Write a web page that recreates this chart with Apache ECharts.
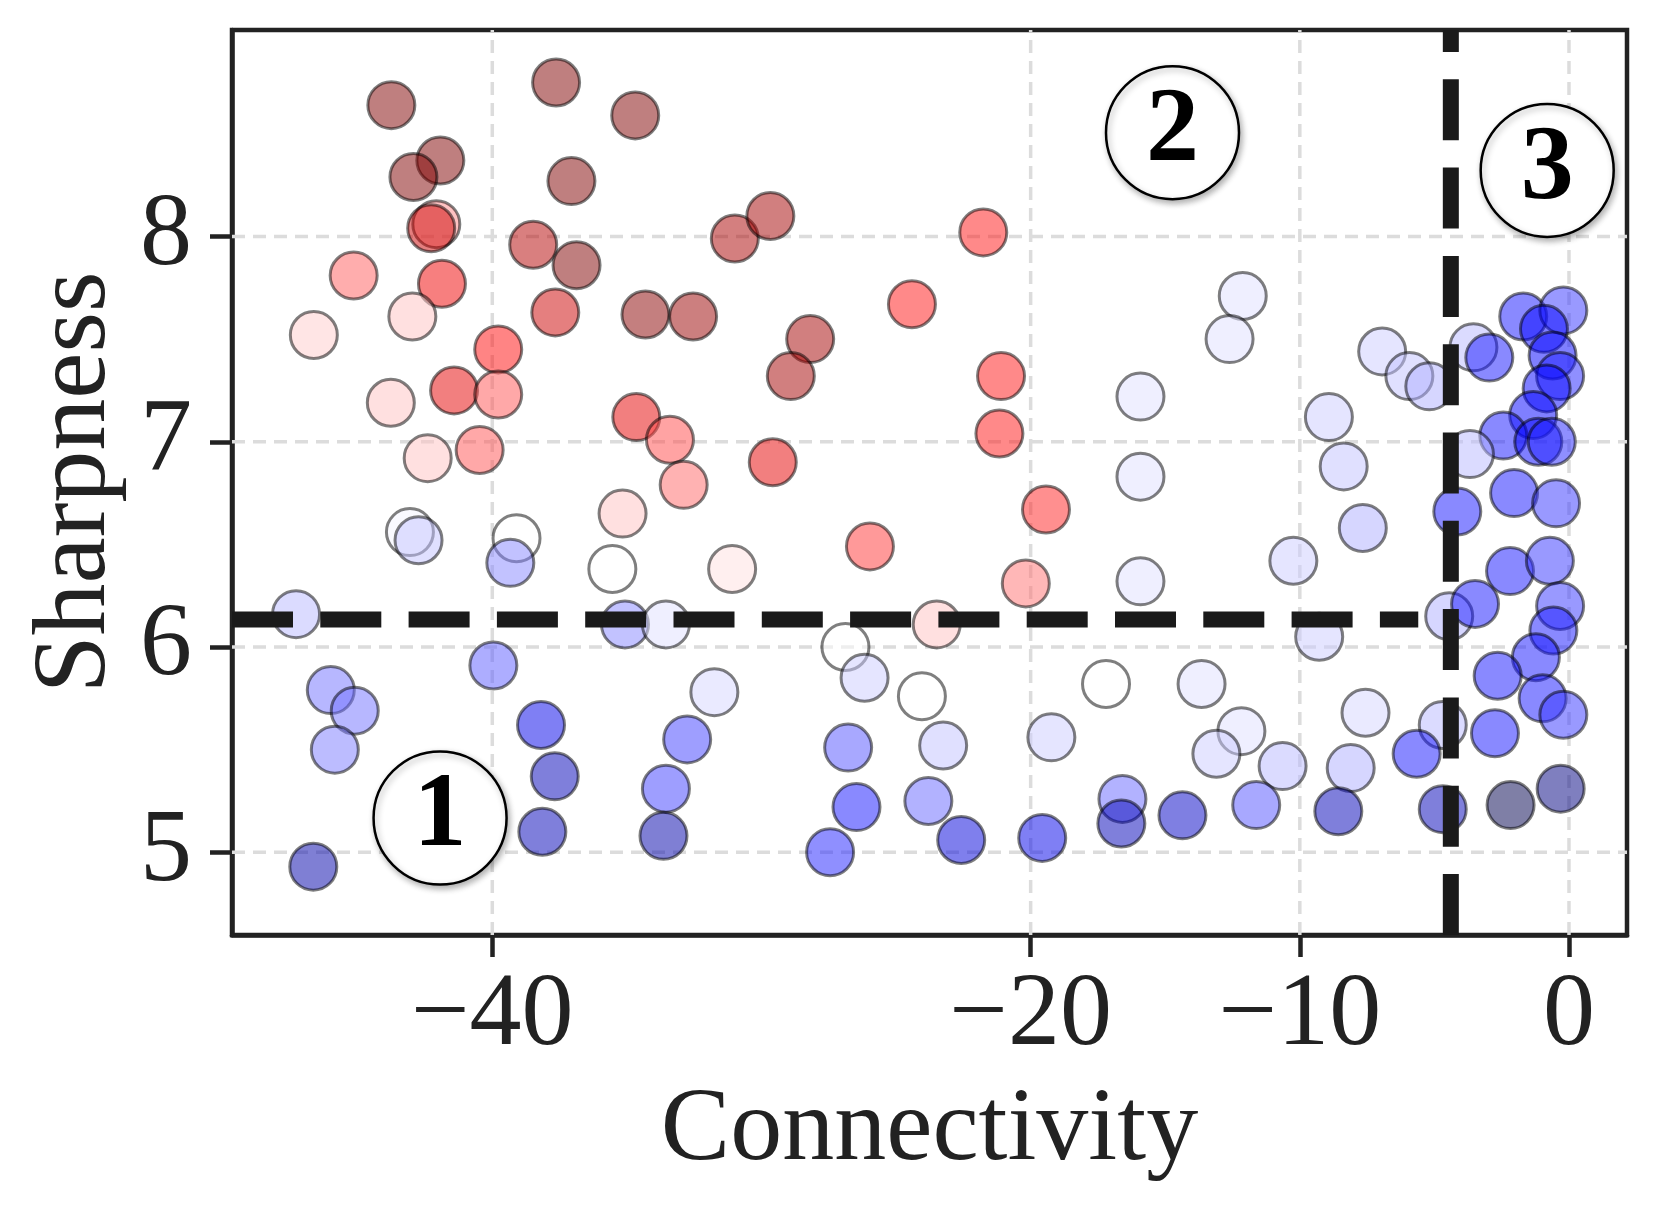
<!DOCTYPE html>
<html>
<head>
<meta charset="utf-8">
<title>Connectivity vs Sharpness</title>
<script src="https://cdn.jsdelivr.net/npm/echarts@6.0.0/dist/echarts.min.js"></script>
<style>
  html, body { margin: 0; padding: 0; background: #fff; }
  #main { width: 1657px; height: 1210px; }
</style>
</head>
<body>
<div id="main"></div>
<script>
// points, same order in all three arrays
var connectivity = [
  -43.75, -37.63, -34.69, -41.93, -42.93, -37.06, -42.08, -42.27, -45.15, -41.87,
  -38.48, -36.87, -30.99, -29.67, -37.66, -34.31, -32.54, -42.97, -46.63, -39.78,
  -41.42, -39.78, -43.77, -42.40, -40.47, -34.65, -33.40, -32.89, -29.58, -28.19,
  -28.91, -35.16, -31.09, -35.54, -39.10, -39.33, -43.06, -42.74, -21.76, -24.41,
  -21.10, -21.16, -19.43, -25.97, -20.18, -23.49,
  -47.29, -35.07, -33.55, -39.96, -46.00, -45.11, -45.85, -38.19, -37.68, -38.14,
  -31.75, -32.76, -33.55, -33.64, -46.65,
  -26.88, -26.17, -24.04, -26.78, -23.25, -19.23, -17.20, -13.65, -12.17, -13.10,
  -10.64, -7.56, -8.11, -4.69, -5.66, -4.45, -9.28, -4.69, -8.57, -11.62,
  -14.36, -16.59, -16.63, -19.57, -22.58, -23.80, -26.47, -27.45,
  -12.12, -12.61, -15.92, -15.92, -15.92, -8.92, -8.37, -7.66, -10.24,
  -6.94, -5.93, -5.19, -3.55, -2.96, -1.70, -0.21, -0.93, -0.61, -0.33, -0.83, -1.33, -2.44, -1.14, -0.64,
  -3.68, -2.04, -0.48, -4.15, -2.19, -0.71, -0.33, -3.49, -0.58, -1.23, -2.65, -0.98, -0.21, -2.75, -2.17, -0.31
];
var sharpness = [
  8.64, 8.75, 8.59, 8.37, 8.29, 8.27, 8.06, 8.04, 7.81, 7.77,
  7.96, 7.86, 7.99, 8.10, 7.63, 7.62, 7.61, 7.61, 7.52, 7.45,
  7.25, 7.23, 7.19, 6.92, 6.96, 7.12, 7.01, 6.79, 6.90, 7.50,
  7.32, 6.65, 6.38, 6.38, 6.53, 6.41, 6.56, 6.52, 8.02, 7.67,
  7.32, 7.04, 6.67, 6.49, 6.31, 6.11,
  6.16, 6.11, 6.11, 5.91, 5.79, 5.69, 5.50, 5.62, 5.37, 5.10,
  5.78, 5.55, 5.31, 5.08, 4.93,
  6.00, 5.85, 5.76, 5.51, 5.52, 5.56, 5.82, 5.82, 5.59, 5.48,
  5.42, 5.68, 5.41, 5.62, 5.48, 6.15, 6.05, 5.21, 5.20, 5.23,
  5.18, 5.26, 5.14, 5.07, 5.06, 5.25, 5.22, 5.00,
  7.71, 7.50, 7.22, 6.83, 6.32, 7.12, 6.88, 6.58, 6.42,
  7.44, 7.32, 7.27, 7.46, 7.41, 7.61, 7.64, 7.55, 7.42, 7.32, 7.26, 7.13, 7.03, 7.00, 7.00,
  6.94, 6.75, 6.70, 6.66, 6.37, 6.42, 6.20, 6.21, 6.08, 5.95, 5.86, 5.75, 5.67, 5.58, 5.23, 5.31
];
// colour value, 0 = dark blue, 0.5 = white, 1 = dark red (seismic map)
var score = [
  1.00, 1.00, 1.00, 1.00, 1.00, 1.00, 0.62, 0.85, 0.66, 0.78,
  0.90, 1.00, 0.92, 0.93, 0.85, 0.98, 0.95, 0.56, 0.55, 0.74,
  0.80, 0.67, 0.56, 0.56, 0.67, 0.80, 0.68, 0.65, 0.80, 0.93,
  0.93, 0.56, 0.53, 0.50, 0.50, 0.38, 0.49, 0.44, 0.73, 0.73,
  0.73, 0.73, 0.72, 0.70, 0.64, 0.56,
  0.43, 0.38, 0.47, 0.34, 0.36, 0.36, 0.37, 0.22, 0.15, 0.15,
  0.46, 0.31, 0.31, 0.13, 0.13,
  0.50, 0.45, 0.50, 0.33, 0.44, 0.45, 0.50, 0.47, 0.47, 0.45,
  0.43, 0.46, 0.42, 0.43, 0.27, 0.42, 0.45, 0.15, 0.15, 0.33,
  0.17, 0.35, 0.15, 0.22, 0.20, 0.35, 0.27, 0.28,
  0.47, 0.47, 0.47, 0.47, 0.47, 0.45, 0.44, 0.42, 0.45,
  0.45, 0.44, 0.42, 0.43, 0.27, 0.27, 0.30, 0.25, 0.25, 0.28, 0.25, 0.25, 0.27, 0.25, 0.28,
  0.43, 0.27, 0.30, 0.27, 0.27, 0.30, 0.30, 0.27, 0.27, 0.27, 0.27, 0.27, 0.30, 0.27, 0.00, 0.07
];

var xTicks = [-40, -20, -10, 0];
var yTicks = [5, 6, 7, 8];
var xMin = -49.67, xMax = 2.155;
var yMin = 4.597, yMax = 9.006;

// region split lines (the horizontal one stops short of the vertical one)
var connThreshold = -4.39;
var sharpThreshold = 6.134;
var sharpLineEnd = -5.6;

// circled region numbers
var regionLabels = ['1', '2', '3'];
var regionX = [-41.94, -14.73, -0.81];
var regionY = [5.167, 8.506, 8.322];

var FONT = "'Liberation Serif', 'Times New Roman', serif";
var INK = '#222';
var FS = 104;

var points = connectivity.map(function (c, i) {
  return [c, sharpness[i], score[i]];
});
var regions = regionLabels.map(function (t, i) {
  return [regionX[i], regionY[i], t];
});

function minusFmt(v) {
  return v < 0 ? '\u2212' + Math.abs(v) : String(v);
}

// straight segment as a line series (dash phase starts at the first point)
function segment(data, style, z) {
  return {
    type: 'line', data: data, z: z, silent: true,
    showSymbol: false, symbol: 'none', animation: false,
    lineStyle: style
  };
}

var gridStyle = { color: '#dcdcdc', width: 3.5, type: [13, 8] };
var splitStyle = { color: '#1a1a1a', width: 16, type: [61, 27.3] };

var series = [];
// dashed grid at the tick values only
xTicks.forEach(function (v) {
  series.push(segment([[v, yMin], [v, yMax]], gridStyle, 1));
});
yTicks.forEach(function (v) {
  series.push(segment([[xMin, v], [xMax, v]], gridStyle, 1));
});
var pointIndex = series.length;
series.push({
  type: 'scatter', data: points, z: 3,
  symbolSize: 47,
  itemStyle: { borderColor: '#000', borderWidth: 3, opacity: 0.5 }
});
series.push(segment([[xMin, sharpThreshold], [sharpLineEnd, sharpThreshold]], splitStyle, 6));
series.push(segment([[connThreshold, yMin], [connThreshold, yMax]], splitStyle, 6));
series.push({
  type: 'scatter', data: regions, z: 10, silent: true,
  symbolSize: 133,
  itemStyle: {
    color: '#fff', opacity: 1, borderColor: '#000', borderWidth: 2.5,
    shadowBlur: 6, shadowOffsetX: 2, shadowOffsetY: 3, shadowColor: 'rgba(0,0,0,0.3)'
  },
  label: {
    show: true, position: 'inside', formatter: '{@[2]}',
    fontFamily: FONT, fontWeight: 'bold', fontSize: 106, color: '#000'
  }
});

var chart = echarts.init(document.getElementById('main'));
chart.setOption({
  backgroundColor: '#fff',
  animation: false,
  grid: {
    left: 232, top: 30, width: 1395, height: 905,
    show: true, borderColor: INK, borderWidth: 4.5
  },
  xAxis: {
    type: 'value', min: xMin, max: xMax,
    name: 'Connectivity', nameLocation: 'middle', nameGap: 145,
    nameTextStyle: { fontFamily: FONT, fontSize: FS, color: INK },
    axisLine: { show: true, onZero: false, lineStyle: { color: INK, width: 4.5 } },
    axisTick: { show: true, customValues: xTicks, length: 22, lineStyle: { color: INK, width: 4.5 } },
    axisLabel: { customValues: xTicks, formatter: minusFmt, fontFamily: FONT, fontSize: FS, color: INK, margin: 30 },
    splitLine: { show: false }
  },
  yAxis: {
    type: 'value', min: yMin, max: yMax,
    name: 'Sharpness', nameLocation: 'middle', nameGap: 97,
    nameTextStyle: { fontFamily: FONT, fontSize: FS, color: INK },
    axisLine: { show: true, onZero: false, lineStyle: { color: INK, width: 4.5 } },
    axisTick: { show: true, customValues: yTicks, length: 22, lineStyle: { color: INK, width: 4.5 } },
    axisLabel: { customValues: yTicks, fontFamily: FONT, fontSize: FS, color: INK, margin: 40 },
    splitLine: { show: false }
  },
  visualMap: {
    show: false, type: 'continuous', seriesIndex: pointIndex, dimension: 2,
    min: 0, max: 1,
    inRange: { color: ['#00004d', '#0000ff', '#ffffff', '#ff0000', '#800000'] }
  },
  series: series
});
</script>
</body>
</html>
